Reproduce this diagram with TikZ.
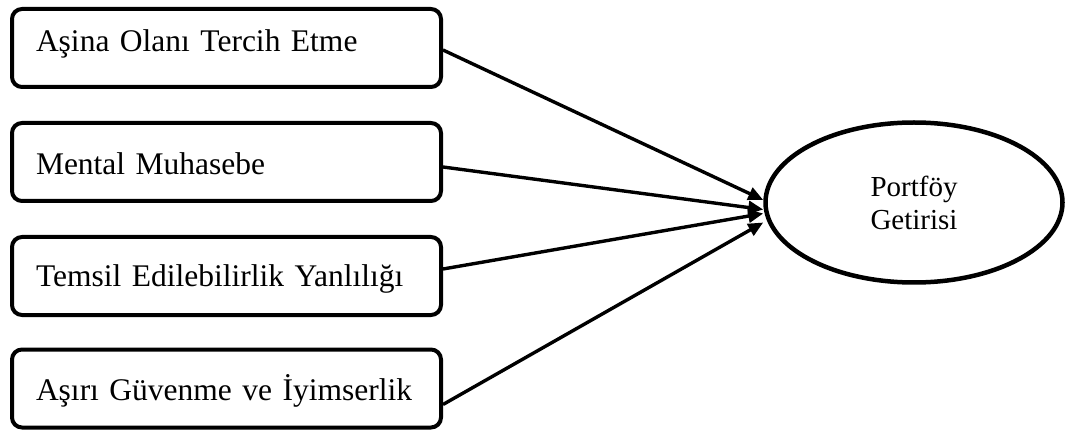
\documentclass[tikz,border=0pt]{standalone}
\usepackage{fontspec}
\setmainfont{Liberation Serif}
\usetikzlibrary{shapes.geometric,arrows.meta}
\begin{document}
\begin{tikzpicture}[x=1pt,y=-1pt,
  factorbox/.style={draw=black, line width=4pt, rounded corners=10pt,
    anchor=north west, minimum width=429pt, minimum height=78pt,
    text width=381pt, inner xsep=24pt, align=left,
    text height=24pt, text depth=0pt,
    font=\fontsize{31.5}{37}\selectfont},
  outcome/.style={draw=black, line width=4.5pt, ellipse,
    minimum width=297pt, minimum height=160pt, align=center,
    font=\fontsize{29}{33}\selectfont},
  link/.style={line width=3.4pt, -{Triangle[length=15pt,width=13pt]}}]
\useasboundingbox (0,0) rectangle (1068,430);
\node[factorbox, text depth=16pt] (b1) at (10,7) {Aşina Olanı Tercih Etme};
\node[factorbox, text height=26pt] (b2) at (10,121) {Mental Muhasebe};
\node[factorbox, text height=22pt] (b3) at (10,235) {Temsil Edilebilirlik Yanlılığı};
\node[factorbox, text height=23pt] (b4) at (10,347.5) {Aşırı Güvenme ve İyimserlik};
\node[outcome] (e) at (914,202.5) {Portföy\\Getirisi};
\draw[link] ([yshift=-2pt]b1.east) -- ([yshift=2.5pt]e.west);
\draw[link] ([yshift=-5pt]b2.east) -- ([yshift=-7pt]e.west);
\draw[link] ([yshift=7pt]b3.east) -- ([yshift=-11pt]e.west);
\draw[link] ([yshift=-16pt]b4.east) -- ([yshift=-20pt]e.west);
\end{tikzpicture}
\end{document}
